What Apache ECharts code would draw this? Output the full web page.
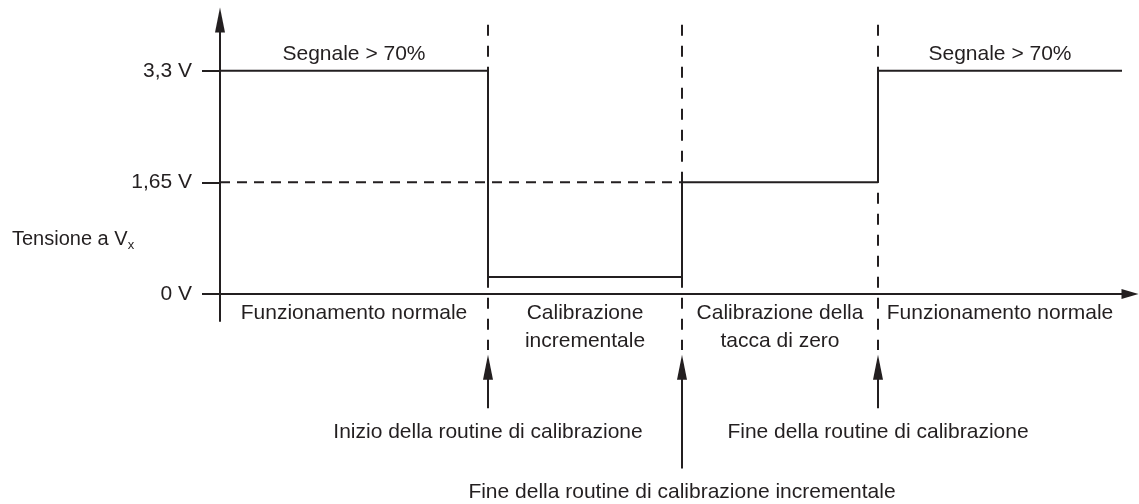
<!DOCTYPE html>
<html>
<head>
<meta charset="utf-8">
<script src="https://cdn.jsdelivr.net/npm/echarts@6/dist/echarts.min.js"></script>
<style>
	html, body { margin: 0; padding: 0; background: #fff; }
	#chart { width: 1139px; height: 504px; }
</style>
</head>
<body>
<div id="chart"></div>
<script>
// time axis is schematic, values in arbitrary units
const segStart = [0, 268, 462, 658]
const segEnd = 902
const levels = [3.3, 0.25, 1.65, 3.3]
const segNames = [
	'Funzionamento normale',
	'Calibrazione\nincrementale',
	'Calibrazione della\ntacca di zero',
	'Funzionamento normale',
]
const noteSegs = [0, 3]
const noteText = 'Segnale > 70%'
const eventTimes = [268, 462, 658]
const eventNames = [
	'Inizio della routine di calibrazione',
	'Fine della routine di calibrazione incrementale',
	'Fine della routine di calibrazione',
]
const yTicks = [0, 1.65, 3.3]
const yTickLabels = ['0 V', '1,65 V', '3,3 V']
const refLevel = 1.65

const ink = '#231f20'
const font = 'Liberation Sans, Arial, sans-serif'
const fs = 21

const chart = echarts.init(document.getElementById('chart'))

const mid = i => ((segStart[i] + (i < segStart.length - 1 ? segStart[i + 1] : segEnd)) / 2)

const signal = segStart.map((t, i) => [t, levels[i]])
signal.push([segEnd, levels[levels.length - 1]])

const series = [
	{
		name: 'signal',
		type: 'line',
		step: 'end',
		data: signal,
		symbol: 'none',
		lineStyle: { color: ink, width: 2 },
		z: 5,
	},
	{
		name: 'ref',
		type: 'line',
		data: [[0, refLevel], [eventTimes[1], refLevel]],
		symbol: 'none',
		lineStyle: { color: ink, width: 2, type: [10, 7] },
	},
]

eventTimes.forEach(t => {
	series.push({
		type: 'line',
		clip: false,
		data: [[t, 3.98], [t, -0.83]],
		symbol: 'none',
		lineStyle: { color: ink, width: 2, type: [11, 10] },
	})
})

// event arrows under the time axis
series.push({
	type: 'custom',
	clip: false,
	silent: true,
	data: eventTimes.map((t, i) => [t, i === 1 ? -2.58 : -1.69]),
	renderItem: (params, api) => {
		const t = api.value(0)
		const tip = api.coord([t, -0.9])
		const end = api.coord([t, api.value(1)])
		return {
			type: 'group',
			children: [
				{
					type: 'line',
					shape: { x1: end[0], y1: end[1], x2: tip[0], y2: tip[1] + 20 },
					style: { stroke: ink, lineWidth: 2 },
				},
				{
					type: 'polygon',
					shape: { points: [[tip[0], tip[1]], [tip[0] - 5, tip[1] + 25], [tip[0] + 5, tip[1] + 25]] },
					style: { fill: ink },
				},
				{
					type: 'text',
					x: end[0],
					y: end[1] + 24,
					style: {
						text: eventNames[params.dataIndex],
						fill: ink,
						fontSize: fs,
						fontFamily: font,
						align: 'center',
						verticalAlign: 'middle',
					},
				},
			],
		}
	},
})

// segment captions below the time axis
series.push({
	type: 'scatter',
	symbolSize: 0,
	itemStyle: { opacity: 1 },
	data: segNames.map((n, i) => ({ value: [mid(i), 0], name: n })),
	label: {
		show: true,
		position: 'bottom',
		distance: 5,
		formatter: '{b}',
		color: ink,
		fontSize: fs,
		fontFamily: font,
		lineHeight: 28,
		align: 'center',
	},
	silent: true,
})

// "Segnale > 70%" notes
series.push({
	type: 'scatter',
	symbolSize: 0,
	itemStyle: { opacity: 1 },
	data: noteSegs.map(i => ({ value: [mid(i), levels[i]], name: noteText })),
	label: {
		show: true,
		position: 'top',
		distance: 6,
		formatter: '{b}',
		color: ink,
		fontSize: fs,
		fontFamily: font,
	},
	silent: true,
})

chart.setOption({
	backgroundColor: '#fff',
	animation: false,
	title: {
		text: '{a|Tensione a V}{b|x}',
		left: 12,
		top: 226,
		padding: 0,
		textStyle: {
			fontWeight: 'normal',
			rich: {
				a: { fontSize: 20, color: ink, fontFamily: font, fontWeight: 'normal' },
				b: { fontSize: 13, color: ink, fontFamily: font, fontWeight: 'normal', padding: [13, 0, 0, 0] },
			},
		},
	},
	grid: { left: 220, right: 9, top: 20, bottom: 183, outerBoundsMode: 'none' },
	xAxis: {
		type: 'value',
		min: 0,
		max: 910,
		axisLine: {
			lineStyle: { color: ink, width: 2 },
			symbol: ['none', 'triangle'],
			symbolSize: [10, 17],
		},
		axisTick: { show: false },
		axisLabel: { show: false },
		splitLine: { show: false },
	},
	yAxis: {
		type: 'value',
		min: -0.4,
		max: 4.05,
		axisLine: {
			show: true,
			onZero: false,
			lineStyle: { color: ink, width: 2 },
			symbol: ['none', 'triangle'],
			symbolSize: [10, 25],
		},
		axisTick: {
			show: true,
			customValues: yTicks,
			length: 18,
			lineStyle: { color: ink, width: 2 },
		},
		axisLabel: {
			show: true,
			customValues: yTicks,
			margin: 28,
			color: ink,
			fontSize: fs,
			fontFamily: font,
			formatter: v => {
				let k = 0
				yTicks.forEach((y, i) => { if (Math.abs(y - v) < Math.abs(yTicks[k] - v)) k = i })
				return yTickLabels[k]
			},
		},
		splitLine: { show: false },
	},
	series: series,
})
</script>
</body>
</html>
